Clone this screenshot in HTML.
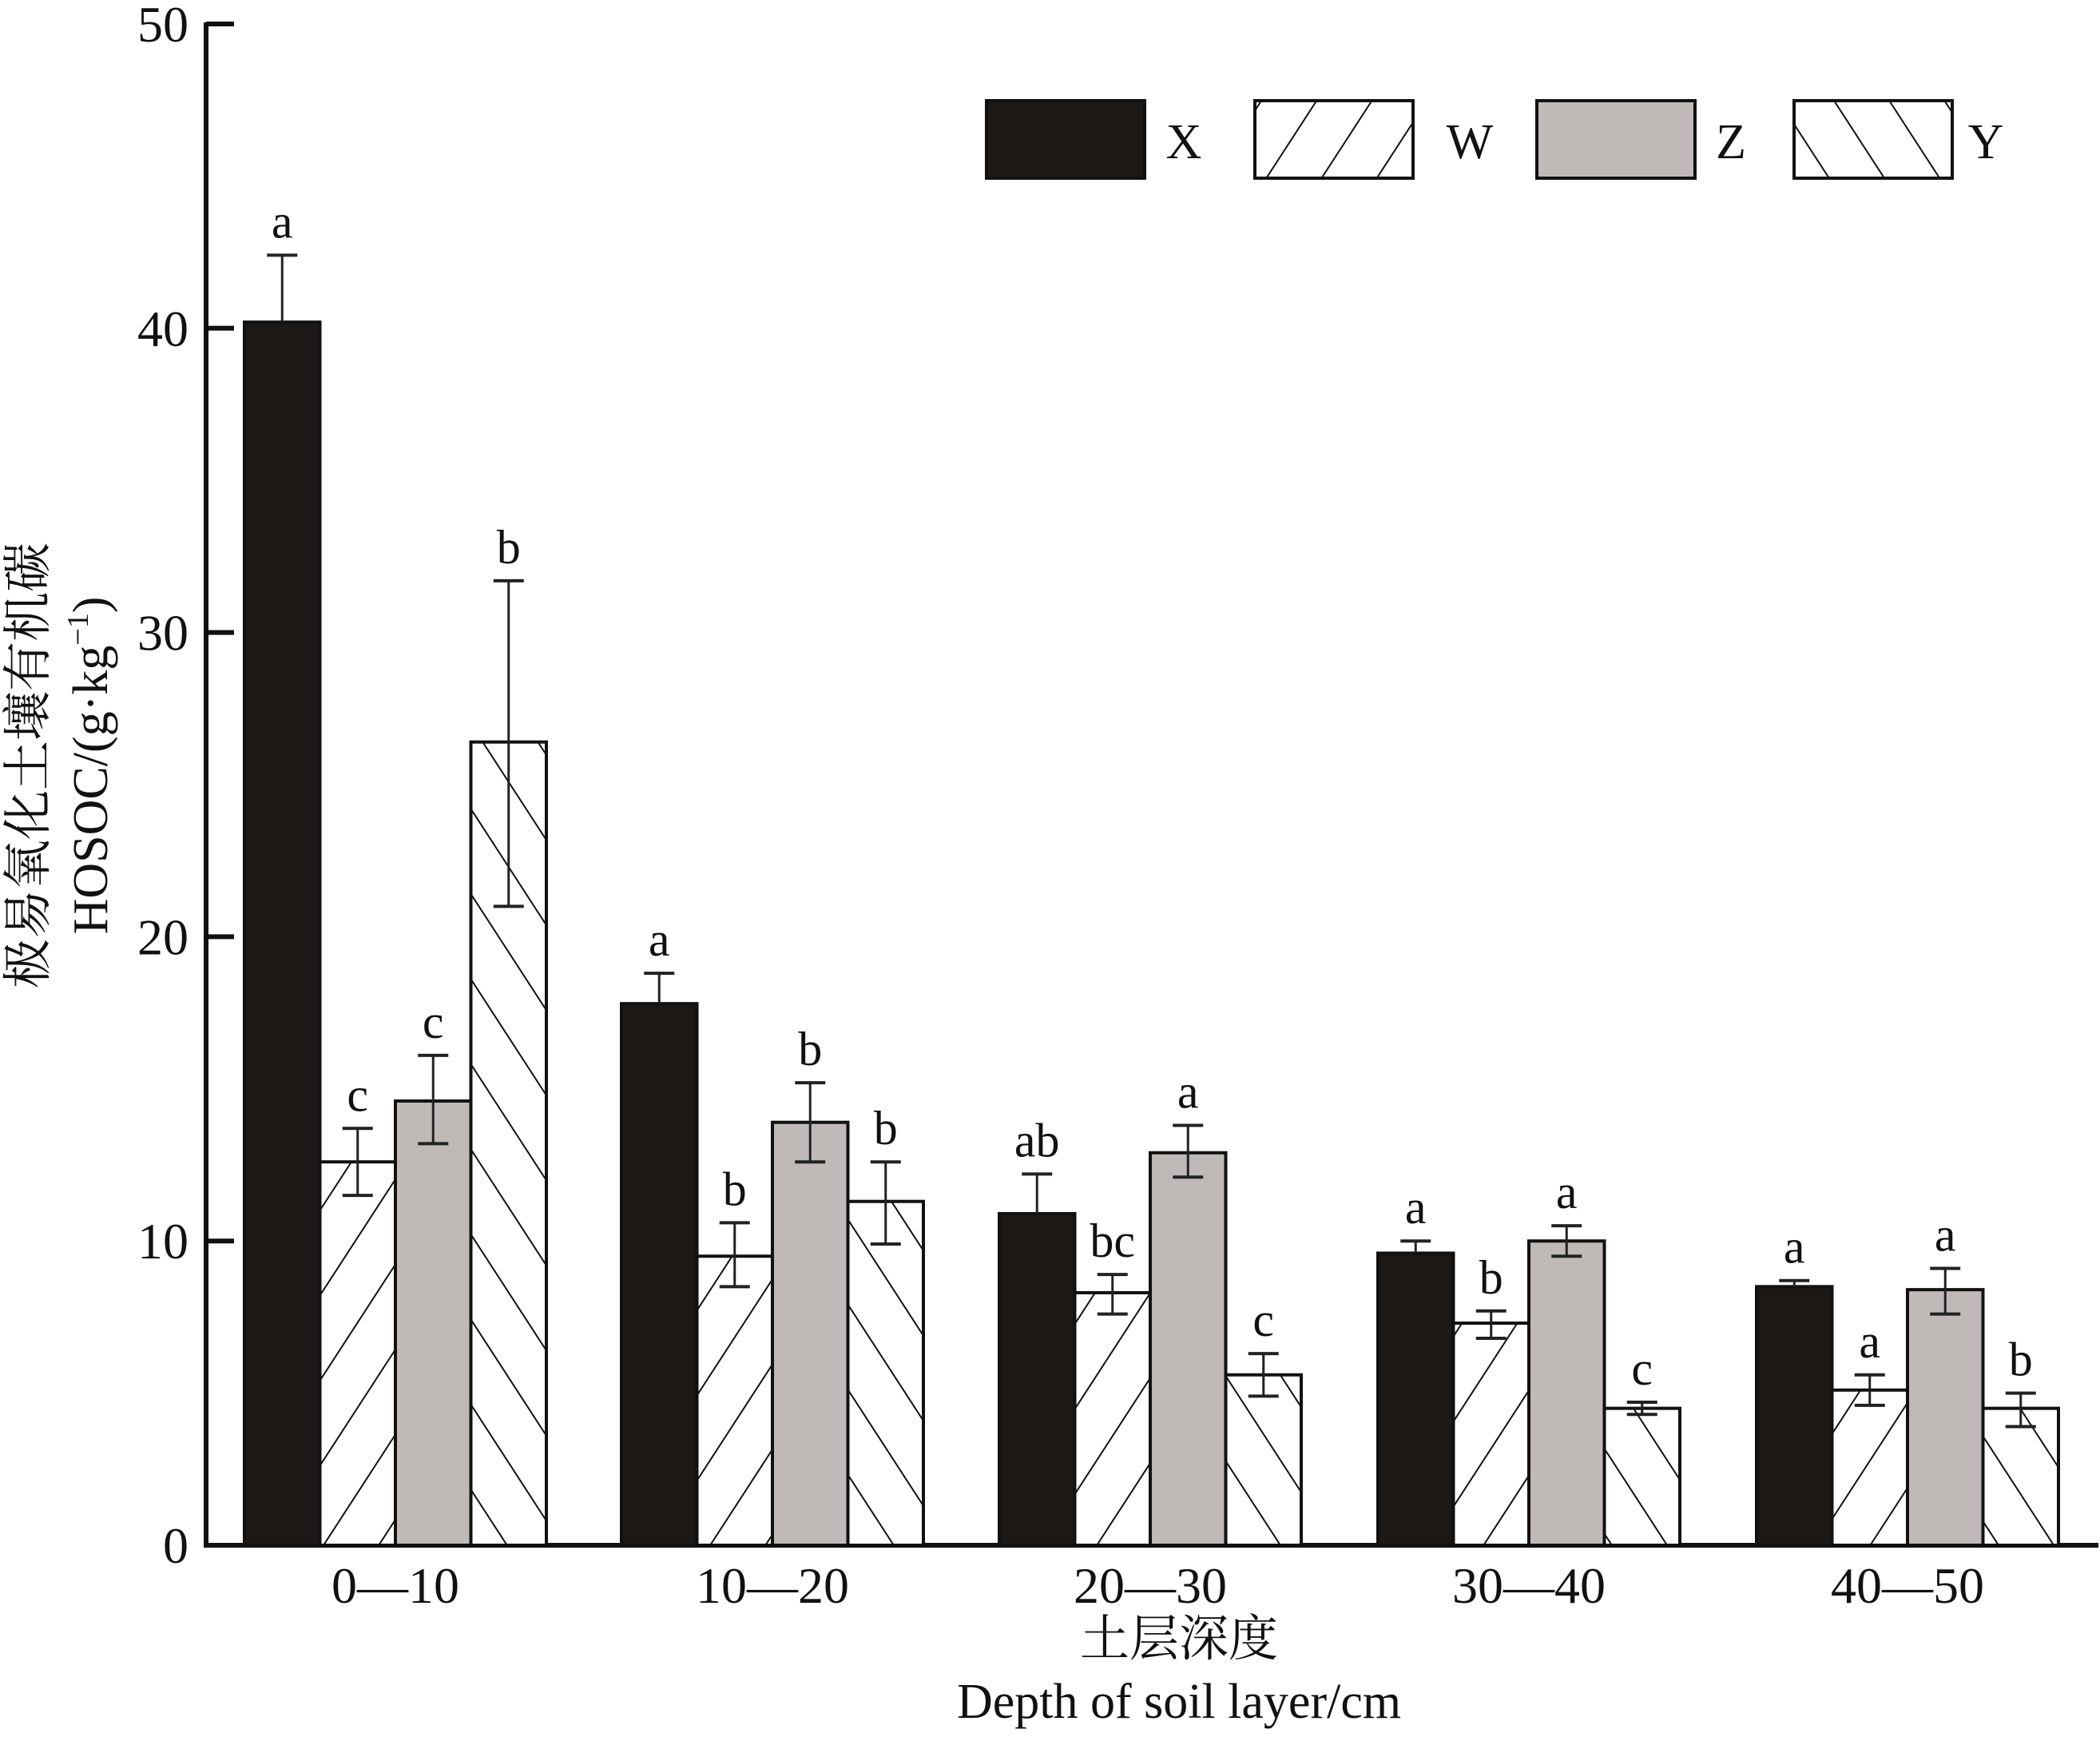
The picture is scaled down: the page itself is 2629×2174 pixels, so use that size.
<!DOCTYPE html>
<html><head><meta charset="utf-8"><style>
html,body{margin:0;padding:0;background:#fff}
svg{display:block}
text{font-family:"Liberation Serif","Noto Serif CJK SC",serif;fill:#111}
</style></head><body>
<svg id="s" width="2629" height="2174" viewBox="0 0 2629 2174" xmlns="http://www.w3.org/2000/svg">
<defs>
<pattern id="pw" patternUnits="userSpaceOnUse" width="58" height="58" patternTransform="rotate(33)">
<rect width="58" height="58" fill="#fff"/><line x1="0" y1="0" x2="0" y2="58" stroke="#111" stroke-width="4"/></pattern>
<pattern id="py" patternUnits="userSpaceOnUse" width="58" height="58" patternTransform="rotate(-33)">
<rect width="58" height="58" fill="#fff"/><line x1="0" y1="0" x2="0" y2="58" stroke="#111" stroke-width="4"/></pattern>
</defs>
<g id="g"></g>
</svg>
<script>
var g=document.getElementById('g'),h='';
function Y(v){return 1934-38.08*v;}
h+='<line x1="258" y1="28" x2="258" y2="1937" stroke="#111" stroke-width="6"/>';
h+='<line x1="255" y1="1934" x2="2627" y2="1934" stroke="#111" stroke-width="6"/>';
for(var i=0;i<=5;i++){var y=Y(i*10);
 if(i>0)h+='<line x1="258" y1="'+y+'" x2="293" y2="'+y+'" stroke="#111" stroke-width="6"/>';
 h+='<text x="236" y="'+(y+22)+'" font-size="64" text-anchor="end">'+(i*10)+'</text>';}
var fills=['#1c1816','url(#pw)','#bfb9b8','url(#py)'];
var data=[
[[40.2,42.4,38,'a'],[12.6,13.7,11.5,'c'],[14.6,16.1,13.2,'c'],[26.4,31.7,21,'b']],
[[17.8,18.8,16.8,'a'],[9.5,10.6,8.5,'b'],[13.9,15.2,12.6,'b'],[11.3,12.6,9.9,'b']],
[[10.9,12.2,9.6,'ab'],[8.3,8.9,7.6,'bc'],[12.9,13.8,12.1,'a'],[5.6,6.3,4.9,'c']],
[[9.6,10.0,9.2,'a'],[7.3,7.7,6.8,'b'],[10.0,10.5,9.5,'a'],[4.5,4.7,4.3,'c']],
[[8.5,8.7,8.3,'a'],[5.1,5.6,4.6,'a'],[8.4,9.1,7.6,'a'],[4.5,5.0,3.9,'b']]];
var starts=[306,778,1251,1725,2199],bw=94.5,labs=['0—10','10—20','20—30','30—40','40—50'];
for(var k=0;k<5;k++){
 for(var j=0;j<4;j++){var d=data[k][j],x=starts[k]+j*bw,yt=Y(d[0]);
  h+='<rect x="'+x+'" y="'+yt+'" width="'+bw+'" height="'+(1934-yt)+'" fill="'+fills[j]+'" stroke="#111" stroke-width="4"/>';
  var cx=x+bw/2,y1=Y(d[1]),y2=Y(d[2]);
  if(j==0){y2=yt;}
  h+='<line x1="'+cx+'" y1="'+y1+'" x2="'+cx+'" y2="'+y2+'" stroke="#222" stroke-width="3"/>';
  h+='<line x1="'+(cx-19)+'" y1="'+y1+'" x2="'+(cx+19)+'" y2="'+y1+'" stroke="#222" stroke-width="4"/>';
  if(j!=0)h+='<line x1="'+(cx-19)+'" y1="'+y2+'" x2="'+(cx+19)+'" y2="'+y2+'" stroke="#222" stroke-width="4"/>';
  h+='<text x="'+cx+'" y="'+(y1-22)+'" font-size="60" text-anchor="middle">'+d[3]+'</text>';
 }
 h+='<text x="'+(starts[k]+2*bw)+'" y="2006" font-size="64" text-anchor="middle">'+labs[k]+'</text>';
}
h+='<text x="1476" y="2072" font-size="62" text-anchor="middle">土层深度</text>';
h+='<text x="1476" y="2150" font-size="62" text-anchor="middle">Depth of soil layer/cm</text>';
h+='<text transform="translate(56,958) rotate(-90)" font-size="62" text-anchor="middle">极易氧化土壤有机碳</text>';
h+='<text transform="translate(134,958) rotate(-90)" font-size="62" text-anchor="middle">HOSOC/(g·kg<tspan dy="-24" font-size="38">−1</tspan><tspan dy="24">)</tspan></text>';
var lx=[[1235,1482],[1571,1840],[1924,2167],[2246,2486]],ln=['X','W','Z','Y'];
for(var j=0;j<4;j++){
 h+='<rect x="'+lx[j][0]+'" y="126" width="198" height="97" fill="'+fills[j]+'" stroke="#111" stroke-width="4"/>';
 h+='<text x="'+lx[j][1]+'" y="198" font-size="62" text-anchor="middle">'+ln[j]+'</text>';
}
g.innerHTML=h;
</script>
</body></html>
